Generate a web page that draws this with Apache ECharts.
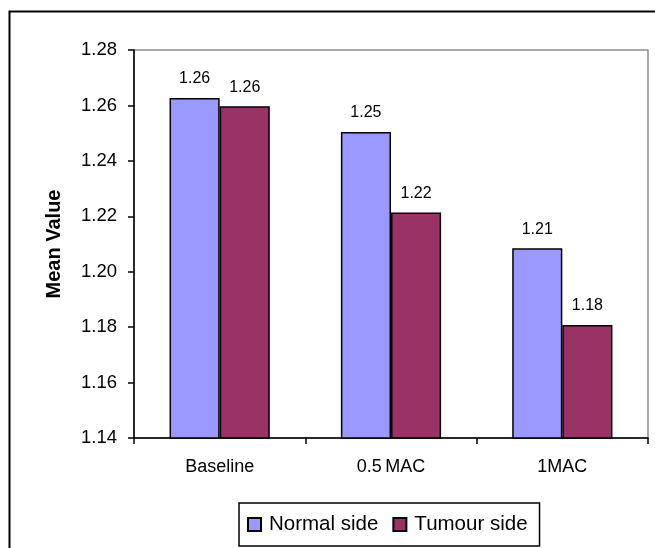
<!DOCTYPE html>
<html>
<head>
<meta charset="utf-8">
<script src="https://cdn.jsdelivr.net/npm/echarts@6/dist/echarts.min.js"></script>
<style>
html,body{margin:0;padding:0;background:#fff;}
#chart{width:655px;height:548px;}
</style>
</head>
<body>
<div id="chart"></div>
<script>
const categories = ['Baseline', '0.5\u2009MAC', '1MAC'];
const seriesNames = ['Normal side', 'Tumour side'];
const normalSide = [1.2627, 1.2504, 1.2085];
const tumourSide = [1.2597, 1.2214, 1.1808];
const yMin = 1.14, yMax = 1.28, yStep = 0.02;

const FONT = 'Liberation Sans, Arial, sans-serif';
const chart = echarts.init(document.getElementById('chart'), null, {renderer: 'canvas'});
const labelCfg = {
  show: true, position: 'top', distance: 11, color: '#000',
  fontFamily: FONT, fontSize: 16,
  formatter: p => p.value.toFixed(2)
};
chart.setOption({
  backgroundColor: '#fff',
  animation: false,
  graphic: [{
    type: 'rect', left: 7, top: 9, z: 100, silent: true,
    shape: {width: 700, height: 600},
    style: {fill: 'none', stroke: '#000', lineWidth: 2}
  }],
  grid: {
    left: 134, right: 7, top: 50, bottom: 110,
    show: true, borderColor: '#8c8c8c', borderWidth: 1.5, backgroundColor: '#fff'
  },
  legend: {
    data: seriesNames,
    left: 239, top: 503,
    orient: 'horizontal',
    padding: [11, 12, 11, 8],
    itemGap: 14,
    itemWidth: 13, itemHeight: 13,
    icon: 'rect',
    borderColor: '#000', borderWidth: 1.5,
    textStyle: {fontFamily: FONT, fontSize: 20.5, color: '#000', padding: [0, 0, 0, 3]}
  },
  xAxis: {
    type: 'category',
    data: categories,
    axisLine: {lineStyle: {color: '#000', width: 1.5}},
    axisTick: {show: true, length: 6, lineStyle: {color: '#000', width: 1.5}},
    axisLabel: {fontFamily: FONT, fontSize: 18, color: '#000', margin: 20},
    splitLine: {show: false}
  },
  yAxis: {
    type: 'value',
    min: yMin, max: yMax, interval: yStep,
    name: 'Mean Value',
    nameLocation: 'middle',
    nameGap: 70,
    nameTextStyle: {fontFamily: FONT, fontSize: 20, fontWeight: 'bold', color: '#000'},
    axisLine: {show: true, lineStyle: {color: '#000', width: 1.5}},
    axisTick: {show: true, length: 6, lineStyle: {color: '#000', width: 1.5}},
    axisLabel: {fontFamily: FONT, fontSize: 18.5, color: '#000', margin: 17,
      formatter: v => v.toFixed(2)},
    splitLine: {show: false}
  },
  series: [
    {
      name: seriesNames[0], type: 'bar', data: normalSide,
      barGap: '0%', barCategoryGap: '41.5%',
      itemStyle: {color: '#9999FF', borderColor: '#000', borderWidth: 1.5},
      label: labelCfg
    },
    {
      name: seriesNames[1], type: 'bar', data: tumourSide,
      barGap: '0%', barCategoryGap: '41.5%',
      itemStyle: {color: '#993366', borderColor: '#000', borderWidth: 1.5},
      label: labelCfg
    }
  ]
});
</script>
</body>
</html>
